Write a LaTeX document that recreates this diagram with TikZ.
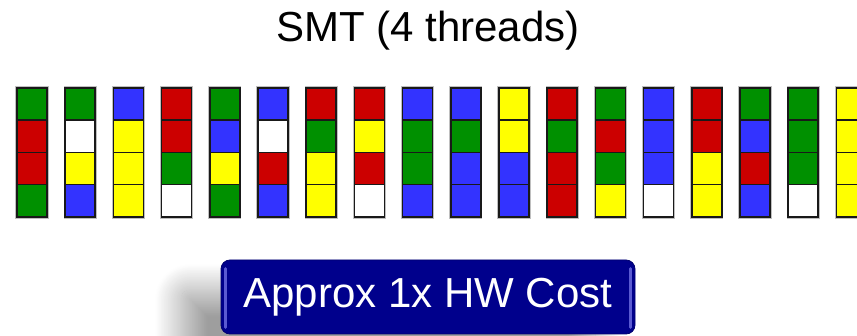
\documentclass[tikz,border=0pt]{standalone}
\usepackage{fontspec}
\setmainfont{Liberation Sans}
\usetikzlibrary{shadows.blur}
\definecolor{cG}{RGB}{0,144,0}
\definecolor{cR}{RGB}{204,0,0}
\definecolor{cB}{RGB}{51,51,255}
\definecolor{cY}{RGB}{255,255,0}
\definecolor{cW}{RGB}{255,255,255}
\definecolor{navy}{RGB}{0,0,140}
\definecolor{navylite}{RGB}{90,90,210}
\begin{document}
\begin{tikzpicture}[x=1pt,y=-1pt,
  cell/.style={draw=black!90, line width=1.5pt,
    minimum width=30pt, minimum height=32.25pt, inner sep=0pt, outer sep=0pt},
  halo/.style={draw=black!25, line width=3.2pt},
  btn/.style={rounded corners=9pt, fill=navy, draw=navy!80!black, line width=0.8pt,
    minimum width=414pt, minimum height=74pt, text=white,
    font=\fontsize{42}{50}\selectfont, inner sep=0pt},
  gloss/.style={draw=navylite, line width=3pt, line cap=round},
  titlefont/.style={font=\fontsize{42}{50}\selectfont}]
\useasboundingbox (0,0) rectangle (857,336);
\clip (0,0) rectangle (857,336);
\node[titlefont, anchor=base] (title) at (428,42) {SMT (4 threads)};
\foreach \i in {1,...,18} {
  \draw[halo] ({17+48.2*(\i-1)},88) rectangle ++(30,129);
}
\foreach \cols [count=\i] in {{G,R,R,G},{G,W,Y,B},{B,Y,Y,Y},{R,R,G,W},{G,B,Y,G},{B,W,R,B},
  {R,G,Y,Y},{R,Y,R,W},{B,G,G,B},{B,G,B,B},{Y,Y,B,B},{R,G,R,R},
  {G,R,G,Y},{B,B,B,W},{R,R,Y,Y},{G,B,R,B},{G,G,G,W},{Y,Y,Y,Y}} {
  \foreach \c [count=\j] in \cols {
    \node[cell, fill=c\c] (c\i-\j) at ({32+48.2*(\i-1)}, {88+32.25*(\j-0.5)}) {};
  }
}
\node[btn, blur shadow={shadow xshift=-40pt, shadow yshift=-30pt,
  shadow blur radius=26pt, shadow blur steps=40, shadow opacity=38}] (cost) at (428,297) {Approx 1x HW Cost};
\draw[gloss] ([xshift=5pt,yshift=-9pt]cost.north west) -- ([xshift=5pt,yshift=7pt]cost.south west);
\draw[gloss] ([xshift=-5pt,yshift=-9pt]cost.north east) -- ([xshift=-5pt,yshift=7pt]cost.south east);
\end{tikzpicture}
\end{document}
